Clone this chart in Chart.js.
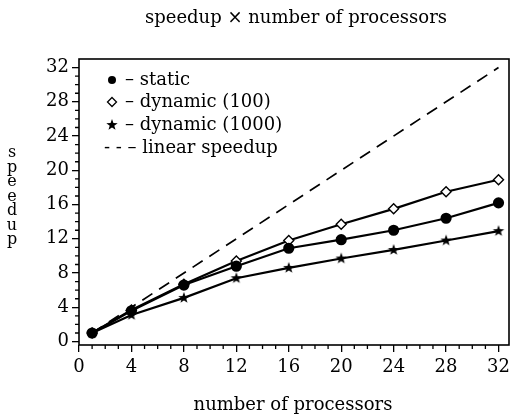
<!DOCTYPE html>
<html lang="en">
<head>
    <meta charset="UTF-8">
    <title>Speedup</title>
    <script src="https://cdn.jsdelivr.net/npm/chart.js@4.4.0/dist/chart.umd.min.js"></script>
    <style>
        body { margin: 0; background: #fff; }
        canvas { display: block; }
    </style>
</head>
<body>
    <canvas id="speedupChart" width="516" height="417"></canvas>

    <script>
        const processors = [1, 4, 8, 12, 16, 20, 24, 28, 32];
        const staticSpeedup = [1.0, 3.6, 6.6, 8.8, 10.9, 11.9, 13.0, 14.4, 16.2];
        const dynamic100Speedup = [1.0, 3.7, 6.7, 9.4, 11.8, 13.7, 15.5, 17.5, 18.9];
        const dynamic1000Speedup = [1.0, 3.1, 5.1, 7.4, 8.6, 9.7, 10.7, 11.8, 12.9];
        const linearX = [1, 32];
        const linearY = [1, 32];
        const tickValues = [0, 4, 8, 12, 16, 20, 24, 28, 32];
        const legendLabels = ['\u2013 static', '\u2013 dynamic (100)', '\u2013 dynamic (1000)', '- - \u2013 linear speedup'];

        const serif = '"DejaVu Serif", "Liberation Serif", serif';

        function pairs(xs, ys) {
            return xs.map((x, i) => ({ x: x, y: ys[i] }));
        }

        // filled five point star used as marker
        function makeStar(r) {
            const c = document.createElement('canvas');
            c.width = c.height = r * 2 + 2;
            const g = c.getContext('2d');
            g.translate(r + 1, r + 1);
            g.beginPath();
            for (let i = 0; i < 10; i++) {
                const rad = i % 2 === 0 ? r : r * 0.4;
                const a = -Math.PI / 2 + i * Math.PI / 5;
                g.lineTo(Math.cos(a) * rad, Math.sin(a) * rad);
            }
            g.closePath();
            g.fillStyle = '#000';
            g.fill();
            return c;
        }
        const starImg = makeStar(6);

        const decorPlugin = {
            id: 'decor',
            afterDraw(chart) {
                const ctx = chart.ctx;
                const a = chart.chartArea;
                const xs = chart.scales.x;
                const ys = chart.scales.y;
                ctx.save();
                ctx.strokeStyle = '#000';
                ctx.fillStyle = '#000';

                // frame
                ctx.lineWidth = 1.6;
                ctx.strokeRect(a.left, a.top, a.right - a.left, a.bottom - a.top);

                // minor ticks
                ctx.lineWidth = 1.3;
                ctx.beginPath();
                for (let v = 1; v < 33; v++) {
                    if (v % 4 === 0) continue;
                    const px = xs.getPixelForValue(v);
                    ctx.moveTo(px, a.bottom);
                    ctx.lineTo(px, a.bottom + 4);
                    const py = ys.getPixelForValue(v);
                    ctx.moveTo(a.left, py);
                    ctx.lineTo(a.left - 4, py);
                }
                ctx.stroke();

                // titles
                ctx.textAlign = 'center';
                ctx.textBaseline = 'middle';
                ctx.font = '18px ' + serif;
                ctx.fillText('speedup \u00d7 number of processors', 296, 18);
                ctx.fillText('number of processors', 293, 405);

                ctx.font = '16px ' + serif;
                ctx.textBaseline = 'alphabetic';
                const word = 'speedup';
                for (let i = 0; i < word.length; i++) {
                    ctx.fillText(word[i], 12, 157 + i * 14.5);
                }

                // legend
                ctx.textBaseline = 'middle';
                ctx.font = '18px ' + serif;
                ctx.textAlign = 'left';
                const lx = 112;
                const ly = [80, 102, 125, 148];
                ctx.beginPath();
                ctx.arc(lx, ly[0], 4, 0, Math.PI * 2);
                ctx.fill();
                ctx.lineWidth = 1.3;
                ctx.beginPath();
                ctx.moveTo(lx, ly[1] - 4.5);
                ctx.lineTo(lx + 4.5, ly[1]);
                ctx.lineTo(lx, ly[1] + 4.5);
                ctx.lineTo(lx - 4.5, ly[1]);
                ctx.closePath();
                ctx.stroke();
                ctx.drawImage(starImg, lx - 7, ly[2] - 7);
                for (let i = 0; i < 3; i++) {
                    ctx.fillText(legendLabels[i], 125, ly[i]);
                }
                ctx.fillText(legendLabels[3], 104, ly[3]);
                ctx.restore();
            }
        };

        const lineStyle = {
            borderColor: '#000',
            backgroundColor: '#000',
            borderWidth: 2.2,
            tension: 0,
            pointBorderColor: '#000'
        };

        new Chart(document.getElementById('speedupChart'), {
            type: 'line',
            data: {
                datasets: [
                    Object.assign({}, lineStyle, {
                        label: 'linear speedup',
                        data: pairs(linearX, linearY),
                        borderDash: [12, 8],
                        borderWidth: 1.7,
                        pointRadius: 0
                    }),
                    Object.assign({}, lineStyle, {
                        label: 'dynamic (1000)',
                        data: pairs(processors, dynamic1000Speedup),
                        pointStyle: starImg
                    }),
                    Object.assign({}, lineStyle, {
                        label: 'static',
                        data: pairs(processors, staticSpeedup),
                        pointStyle: 'circle',
                        pointRadius: 4.5
                    }),
                    Object.assign({}, lineStyle, {
                        label: 'dynamic (100)',
                        data: pairs(processors, dynamic100Speedup),
                        pointStyle: 'rectRot',
                        pointRadius: 5,
                        pointBackgroundColor: '#fff',
                        pointBorderWidth: 1.4
                    })
                ]
            },
            options: {
                responsive: false,
                animation: false,
                layout: { padding: { top: 59, right: 7, left: 0, bottom: 0 } },
                plugins: {
                    legend: { display: false },
                    title: { display: false },
                    tooltip: { enabled: false }
                },
                scales: {
                    x: {
                        type: 'linear',
                        min: 0,
                        max: 32.8,
                        afterBuildTicks: s => { s.ticks = tickValues.map(v => ({ value: v })); },
                        afterFit: s => { s.height = 72; },
                        border: { display: false },
                        grid: { drawOnChartArea: false, drawTicks: true, tickLength: 7, color: '#000', lineWidth: 1.3 },
                        ticks: { color: '#000', font: { family: serif, size: 18 }, padding: 5, maxRotation: 0 }
                    },
                    y: {
                        min: -0.4,
                        max: 33,
                        afterBuildTicks: s => { s.ticks = tickValues.map(v => ({ value: v })); },
                        afterFit: s => { s.width = 79; },
                        border: { display: false },
                        grid: { drawOnChartArea: false, drawTicks: true, tickLength: 7, color: '#000', lineWidth: 1.3 },
                        ticks: { color: '#000', font: { family: serif, size: 18 }, padding: 3 }
                    }
                }
            },
            plugins: [decorPlugin]
        });
    </script>
</body>
</html>
